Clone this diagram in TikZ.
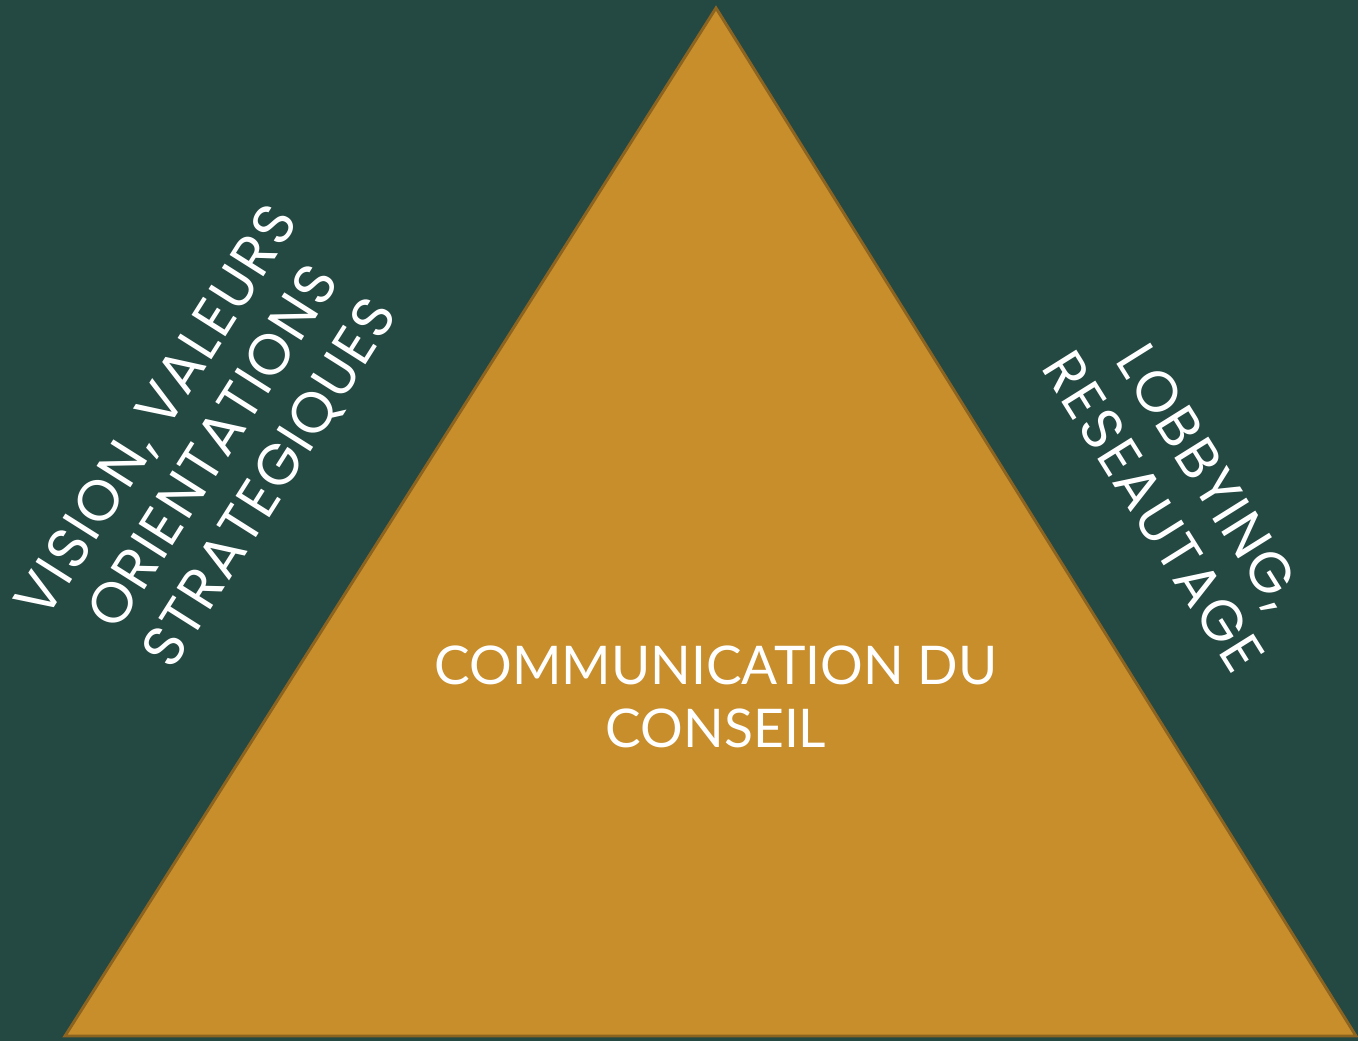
\documentclass[tikz,border=0pt]{standalone}
\usepackage{fontspec}
\newfontfamily\latofont{Lato}
\newfontfamily\sidefont{Poppins}[LetterSpace=3]
\definecolor{fondvert}{RGB}{36,72,66}
\definecolor{ocre}{RGB}{200,142,44}
\definecolor{ocrefonce}{RGB}{140,100,32}
\tikzset{every picture/.style={line width=0.75pt}}
\tikzset{
  sidetext/.style={text=white, align=center, font=\sidefont\fontsize{43}{50}\selectfont},
  centertext/.style={text=white, align=center, font=\latofont\fontsize{40}{47}\selectfont}
}

\begin{document}
\begin{tikzpicture}[x=0.75pt,y=0.75pt,yscale=-1,xscale=1]
	%set diagram area: 1358 x 1041
	\fill [fondvert] (0,0) rectangle (1358,1041);
	\useasboundingbox (0,0) rectangle (1358,1041);

	%Triangle
	\coordinate (sommet) at (716,8);
	\coordinate (basegauche) at (65,1036);
	\coordinate (basedroite) at (1356,1036);
	\draw [ocrefonce, fill=ocre, line width=2.2pt, line join=miter] (sommet) -- (basegauche) -- (basedroite) -- cycle ;

	% Text Node
	\node [centertext] (conseil) at (716,697) {COMMUNICATION DU\\CONSEIL};
	% Text Node
	\node [sidetext, rotate=57.7] (vision) at (215,448) {VISION, VALEURS\\ORIENTATIONS\\STRATEGIQUES};
	% Text Node
	\node [sidetext, rotate=-58] (lobbying) at (1182,494) {LOBBYING,\\RESEAUTAGE};

\end{tikzpicture}
\end{document}
